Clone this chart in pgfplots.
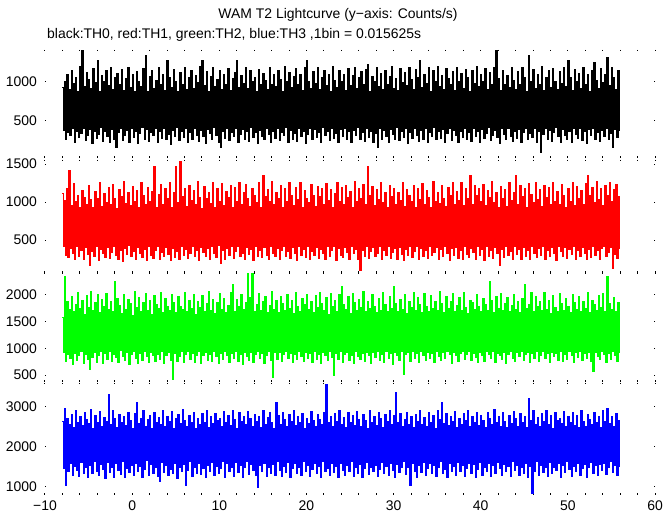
\documentclass[border=0pt]{standalone}
\usepackage{pgfplots}
\pgfplotsset{compat=1.18}
\usepackage{pgfplotstable}
\usepackage{fontspec}
\setmainfont{Liberation Sans}
\pgfplotstableread{
t a b c d
-8 930 1110 1580 2640
-7.875 380 410 930 1460
-7.75 1010 1020 2350 2950
-7.625 260 300 760 1050
-7.5 1090 1180 1870 2710
-7.375 350 270 880 1380
-7.25 900 1408 1720 2560
-7.125 310 390 820 1590
-7 1150 950 1960 2820
-6.875 400 330 700 1300
-6.75 980 1240 1690 2480
-6.625 230 250 910 1520
-6.5 1060 1000 1810 2900
-6.375 370 420 770 1410
-6.25 880 1090 2040 2620
-6.125 290 280 860 1260
-6 1200 930 1750 2750
-5.875 340 360 940 1620
-5.75 1408 1150 1900 2530
-5.625 410 240 720 1350
-5.5 940 1060 1640 2860
-5.375 250 400 890 1480
-5.25 1120 970 1980 2690
-5.125 320 310 790 1230
-5 1030 1210 1760 2580
-4.875 390 160 600 1540
-4.75 910 1030 2060 2930
-4.625 210 350 830 1330
-4.5 1170 920 1700 2470
-4.375 360 290 920 1650
-4.25 990 1140 1850 2780
-4.125 280 420 740 1400
-4 1280 1050 2010 2600
-3.875 330 230 870 1280
-3.75 870 1260 1660 2880
-3.625 420 380 950 1560
-3.5 1080 940 1920 2510
-3.375 240 320 710 1450
-3.25 1010 1110 1780 2730
-3.125 370 270 900 1210
-3 1140 990 2030 2640
-2.875 300 400 800 1610
-2.75 950 1190 1730 3300
-2.625 220 260 940 1370
-2.5 1190 960 1880 2560
-2.375 390 340 760 1500
-2.25 900 1230 1680 2920
-2.125 270 410 890 1250
-2 1060 1040 2250 2700
-1.875 160 300 830 1580
-1.75 1110 910 1940 2490
-1.625 350 250 730 1420
-1.5 960 1160 1800 2810
-1.375 410 370 960 1320
-1.25 1160 1070 1650 2600
-1.125 250 220 850 1640
-1 890 1270 2000 2760
-0.875 320 390 780 1230
-0.75 1040 980 1730 2540
-0.625 380 310 930 1470
-0.5 1180 1130 1910 2870
-0.375 230 430 700 1360
-0.25 930 950 1840 2650
-0.125 400 280 880 1550
0 1090 1200 1620 2450
0.125 290 350 940 1280
0.25 870 1000 2070 2840
0.375 360 240 810 1600
0.5 1130 1150 1760 3100
0.625 210 400 720 1390
0.75 1000 920 1950 2590
0.875 340 330 900 1510
1 940 1250 1690 2720
1.125 420 270 770 1240
1.25 1170 1080 1860 2900
1.375 270 380 950 1430
1.5 1344 960 2020 2520
1.625 390 230 840 1660
1.75 880 1190 1710 2680
1.875 240 410 730 1300
2 1070 1010 1890 2790
2.125 350 300 920 1570
2.25 1150 1140 1640 2460
2.375 310 260 860 1350
2.5 910 1472 1990 2850
2.625 400 370 750 1480
2.75 1020 930 1820 2610
2.875 220 420 890 1260
3 1190 1100 1740 2740
3.125 370 250 800 1150
3.25 960 1230 2050 2550
3.375 280 340 940 1620
3.5 1100 970 1670 2910
3.625 410 280 710 1370
3.75 890 1170 1930 2500
3.875 260 400 870 1540
4 1280 1040 1780 2770
4.125 330 310 930 1290
4.25 1050 1260 1700 2630
4.375 200 230 780 1450
4.5 930 920 2010 2880
4.625 380 390 420 1330
4.75 1160 1120 1850 2470
4.875 300 270 900 1600
5 1010 1472 1660 2700
5.125 420 350 760 1220
5.25 870 990 1960 2820
5.375 250 240 850 1490
5.5 1120 1536 1790 2580
5.625 360 410 950 1380
5.75 970 1070 1720 2930
5.875 290 300 730 1560
6 1180 1180 2040 2660
6.125 400 380 880 1050
6.25 900 940 1680 2510
6.375 230 260 940 1420
6.5 1060 1220 1900 2790
6.625 350 330 800 1630
6.75 1140 1020 1750 2600
6.875 270 420 910 1270
7 920 1150 2000 2870
7.125 410 290 740 1500
7.25 1080 960 1640 2450
7.375 320 370 870 1350
7.5 990 1270 1870 2720
7.625 240 230 950 1590
7.75 1200 1060 1770 2550
7.875 380 400 720 1310
8 1280 910 1980 2840
8.125 300 340 860 1460
8.25 950 1200 1690 2620
8.375 210 280 930 1240
8.5 1130 1040 1830 2900
8.625 390 390 780 1550
8.75 880 1130 2060 2480
8.875 340 250 890 1400
9 1070 980 1710 2760
9.125 260 410 750 1610
9.25 1190 1250 1920 2590
9.375 420 320 940 1280
9.5 940 930 1650 2830
9.625 310 270 840 1520
9.75 1030 1170 1860 2650
9.875 230 430 710 1340
10 1150 1010 2020 2700
10.125 160 192 900 1470
10.25 900 1240 1730 2500
10.375 370 360 800 1630
10.5 1100 950 1940 2880
10.625 280 240 950 1230
10.75 970 1140 1670 2610
10.875 400 390 870 1580
11 1170 1060 1800 2790
11.125 250 300 730 1390
11.25 890 1210 2050 2530
11.375 350 410 910 1500
11.5 1040 920 2200 2920
11.625 300 260 820 1270
11.75 1120 1190 1690 2680
11.875 410 350 940 1620
12 1280 1000 1910 2470
12.125 220 420 760 1360
12.25 930 1260 1780 2850
12.375 330 280 890 1540
12.5 1080 970 2000 2630
12.625 390 330 700 1250
12.75 980 1120 1720 2760
12.875 270 250 930 1480
13 1190 1230 1860 2560
13.125 360 400 850 1650
13.25 910 1050 2400 2890
13.375 240 310 780 1320
13.5 1140 940 1950 2700
13.625 420 380 920 1570
13.75 1000 1180 2400 2500
13.875 290 230 740 1410
14 1060 1090 1680 2810
14.125 350 420 890 1290
14.25 880 990 1820 2640
14.375 210 290 950 980
14.5 1160 1250 2030 2750
14.625 380 360 810 1530
14.75 960 920 1700 2490
14.875 300 270 900 1380
15 1110 1344 1880 2920
15.125 260 400 720 1600
15.25 1020 1070 1970 2570
15.375 410 300 860 1260
15.5 900 1160 1660 2730
15.625 330 250 940 1490
15.75 1180 1010 1800 2850
15.875 230 410 770 1350
16 970 1270 2060 2610
16.125 370 330 450 1560
16.25 1090 960 1730 2460
16.375 280 280 920 1300
16.5 940 1130 1900 3100
16.625 400 390 800 1640
16.75 1150 1040 1670 2780
16.875 250 240 930 1420
17 1030 1220 1960 2550
17.125 350 370 750 1270
17.25 880 930 1830 2870
17.375 310 420 890 1510
17.5 1200 1180 1700 2690
17.625 420 290 950 1370
17.75 1000 1000 2010 2500
17.875 220 350 820 1620
18 1120 1250 1740 2800
18.125 380 260 910 1240
18.25 930 1080 1890 2640
18.375 270 400 730 1460
18.5 1070 950 1650 2910
18.625 340 320 880 1580
18.75 1170 1190 2040 2530
18.875 240 230 790 1330
19 960 1030 1780 2760
19.125 400 410 940 1500
19.25 1100 1260 1690 2600
19.375 300 300 850 1280
19.5 890 920 1930 2840
19.625 360 380 760 1640
19.75 1190 1150 1810 2470
19.875 210 270 930 1400
20 1280 1050 2000 2710
20.125 330 420 820 1550
20.25 1010 990 1720 2580
20.375 410 240 900 1260
20.5 920 1230 1870 2890
20.625 260 350 740 1450
20.75 1130 1090 1660 2650
20.875 390 300 950 1600
21 980 940 1990 2520
21.125 290 400 800 1340
21.25 1180 1200 1760 2800
21.375 350 260 880 1520
21.5 900 1070 2050 2690
21.625 230 380 710 1230
21.75 1060 1170 1830 2560
21.875 420 330 930 1630
22 1140 960 1700 2870
22.125 310 250 860 1390
22.25 950 1240 1950 3550
22.375 370 410 770 1470
22.5 1090 1020 1640 2610
22.625 250 290 940 1290
22.75 880 1160 2020 2760
22.875 400 360 830 1580
23 1200 930 1790 2500
23.125 280 420 500 1360
23.25 1020 1110 1900 2830
23.375 340 230 900 1510
23.5 930 1250 1680 2640
23.625 220 390 800 1250
23.75 1150 1000 2000 2910
23.875 390 300 950 1600
24 1000 1190 2150 2570
24.125 300 270 740 1420
24.25 1100 970 1810 2730
24.375 410 400 890 1300
24.5 890 1210 1720 2480
24.625 260 340 930 1550
24.75 1170 1060 1960 2850
24.875 360 250 780 1380
25 950 1140 1650 2620
25.125 230 410 870 1640
25.25 1080 920 2030 2790
25.375 380 320 720 1270
25.5 1190 1270 1850 2540
25.625 310 380 940 1490
25.75 910 1010 1700 2880
25.875 420 240 850 1350
26 1050 1180 1920 2680
26.125 270 96 800 1570
26.25 1130 1040 1770 2500
26.375 350 370 910 1230
26.5 970 1230 2060 2810
26.625 240 290 760 1460
26.75 1160 960 1690 2650
26.875 400 420 930 1610
27 1220 1472 1880 2470
27.125 290 260 870 1320
27.25 880 1090 1740 2900
27.375 370 350 710 1500
27.5 1070 1200 2000 2600
27.625 220 400 920 1380
27.75 1000 950 1780 2770
27.875 340 280 830 1540
28 1180 1160 1660 2530
28.125 160 330 950 1260
28.25 940 1030 1940 2860
28.375 410 410 780 1430
28.5 1110 1260 1710 2700
28.625 260 240 890 1620
28.75 900 990 2040 2490
28.875 380 370 740 1340
29 1150 1120 1820 2820
29.125 300 300 940 1520
29.25 960 930 1680 2640
29.375 230 420 820 1280
29.5 1070 1220 1970 2910
29.625 390 260 900 1590
29.75 1200 1070 1750 2550
29.875 330 340 700 1410
30 920 1180 2150 2780
30.125 270 390 930 1250
30.25 1040 970 1840 3350
30.375 420 250 860 1560
30.5 890 1130 1690 2610
30.625 250 400 770 1370
30.75 1170 1020 1910 2840
30.875 360 310 950 1500
31 990 1250 1730 2520
31.125 290 230 520 1640
31.25 1120 940 2010 2690
31.375 400 380 880 1310
31.5 950 1160 1650 2870
31.625 210 300 920 1480
31.75 1190 1080 1870 2570
31.875 350 420 750 1050
32 1030 1000 1760 2760
32.125 280 270 940 1600
32.25 900 1210 2050 2480
32.375 410 350 810 1390
32.5 1160 930 1700 2810
32.625 320 410 900 1250
32.75 1060 1170 1950 2630
32.875 240 240 730 1530
33 1280 1030 1820 2900
33.125 380 390 950 1360
33.25 930 1240 1660 2550
33.375 270 290 860 1620
33.5 1100 960 2030 2740
33.625 400 370 780 1280
33.75 980 1150 1790 2500
33.875 220 260 930 1470
34 1180 1060 1680 2850
34.125 350 420 820 1580
34.25 880 920 1990 2610
34.375 300 300 910 1330
34.5 1140 1270 1740 2780
34.625 420 340 740 1540
34.75 1010 1010 1880 2460
34.875 260 400 950 1270
35 1200 1130 1700 2920
35.125 370 250 850 1500
35.25 940 980 2060 2680
35.375 280 380 770 1640
35.5 1080 1220 1830 3100
35.625 390 280 920 1350
35.75 900 1050 1670 2590
35.875 230 410 810 1450
36 1170 940 1960 2840
36.125 340 320 940 1230
36.25 1040 1190 1750 2530
36.375 410 230 880 1580
36.5 960 1090 1880 2770
36.625 250 390 720 1380
36.75 1130 1260 2020 2640
36.875 380 300 930 1510
37 890 970 1690 2890
37.125 310 400 860 1290
37.25 1190 1140 1800 2480
37.375 220 260 750 1620
37.5 1000 1020 1950 2720
37.625 360 360 900 1400
37.75 1110 1250 1710 2560
37.875 290 240 940 1530
38 920 950 2040 2830
38.125 400 420 800 1260
38.25 1160 1170 1760 2660
38.375 270 310 890 1470
38.5 1050 1040 1650 2910
38.625 350 270 950 1590
38.75 880 1344 1900 2500
38.875 240 390 770 1330
39 1140 960 1850 2750
39.125 410 340 910 1560
39.25 980 1210 1720 2600
39.375 300 250 830 1240
39.5 1200 1080 2000 2870
39.625 370 410 740 1440
39.75 940 1180 1780 2540
39.875 230 300 930 1610
40 1090 1000 1690 2790
40.125 390 380 870 1300
40.25 1010 1230 1940 2650
40.375 280 230 750 1500
40.5 1170 950 1810 2480
40.625 340 420 950 1390
40.75 900 1150 1700 2860
40.875 420 290 880 1580
41 1120 1060 2250 2700
41.125 250 370 810 1270
41.25 960 1270 1890 2560
41.375 320 260 940 1530
41.5 1190 990 1660 2930
41.625 380 400 730 1350
41.75 1408 1130 1970 2620
41.875 290 330 900 1620
42 1040 930 1750 2770
42.125 210 160 860 1460
42.25 890 1200 2030 2510
42.375 400 380 790 1280
42.5 1150 1050 1710 2850
42.625 330 270 930 1570
42.75 970 1160 1840 2640
42.875 260 410 720 1390
43 1080 940 1950 2480
43.125 410 300 890 1510
43.25 930 1250 1680 2790
43.375 300 350 940 1260
43.5 1180 1020 1800 2590
43.625 240 240 820 1640
43.75 1020 1130 2000 2880
43.875 370 420 760 1420
44 900 1344 1720 2700
44.125 280 310 920 1540
44.25 1130 970 1870 2520
44.375 390 380 850 1300
44.5 960 1210 1660 2830
44.625 220 250 950 1480
44.75 1190 1070 1930 2610
44.875 350 400 780 1350
45 1050 1180 2200 2760
45.125 410 290 880 1600
45.25 880 920 1750 2490
45.375 260 360 930 1250
45.5 1344 1240 1820 3200
45.625 340 240 740 1520
45.75 1000 1100 2040 2660
45.875 290 410 900 850
46 1160 990 1690 2900
46.125 400 330 810 1400
46.25 920 1260 1960 2570
46.375 230 270 940 1630
46.5 1090 1030 1780 2740
46.625 360 390 760 1290
46.75 970 1160 1880 2520
46.875 96 300 870 1550
47 1200 940 1700 2840
47.125 330 420 950 1370
47.25 890 1220 2050 2630
47.375 410 250 820 1490
47.5 1060 1060 1730 2910
47.625 270 370 900 1260
47.75 1140 1190 1900 2550
47.875 380 290 730 1610
48 930 960 1650 2780
48.125 240 400 930 1330
48.25 1170 1250 1990 2470
48.375 350 330 850 1500
48.5 1010 1000 1770 2870
48.625 420 230 910 1420
48.75 900 1140 1680 2650
48.875 300 410 780 1580
49 1130 970 2030 2720
49.125 220 350 940 1240
49.25 980 1230 1830 2590
49.375 390 280 760 1540
49.5 1190 1080 1710 2890
49.625 310 400 890 1360
49.75 940 930 1940 2500
49.875 260 260 800 1630
50 1280 1170 1790 2760
50.125 370 380 950 1450
50.25 1050 1010 1660 2620
50.375 230 310 870 1270
50.5 890 1260 2000 2850
50.625 400 420 740 1520
50.75 1160 950 1850 2540
50.875 330 240 920 1390
51 1000 1200 1720 2780
51.125 280 360 830 1600
51.25 1110 1040 1960 2480
51.375 410 290 950 1300
51.5 920 1150 1690 2900
51.625 250 400 770 1470
51.75 1180 960 1880 2640
51.875 360 330 900 1570
52 970 1240 1750 2510
52.125 210 250 810 1250
52.25 1090 1344 2040 2800
52.375 390 380 930 1490
52.5 880 1080 1670 2680
52.625 320 270 760 1620
52.75 1150 1190 1900 2560
52.875 400 410 560 1340
53 1248 990 1810 2870
53.125 270 300 920 1530
53.25 1020 1270 1700 2610
53.375 350 360 850 1280
53.5 910 1030 1980 2750
53.625 240 240 790 1560
53.75 1170 1170 1760 2490
53.875 380 390 940 1410
54 990 950 2020 2920
54.125 300 420 880 1600
54.25 1100 1210 1680 2640
54.375 410 280 740 1320
54.5 1312 1090 2350 2950
54.625 260 340 910 1480
54.75 950 1250 1840 2580
54.875 340 400 800 1630
55 1190 1000 1720 2770
55.125 160 128 940 1370
55.25 1060 1160 1950 2500
55.375 390 310 860 1540
55.5 900 1230 1690 2830
55.625 290 260 750 1290
55.75 1140 1070 1860 2660
55.875 370 380 920 1510
}\lc

\begin{document}
\begin{tikzpicture}
\path[use as bounding box] (0bp,0bp) rectangle (672bp,515bp);
\pgfplotsset{
  panel/.style={
    scale only axis, width=610bp,
    xmin=-10, xmax=60,
    axis line style={draw=none},
    xtick={-10,0,10,20,30,40,50,60},
    minor x tick num=4,
    tick style={black, line width=1bp},
    major tick length=1.5bp, minor tick length=1.5bp,
    tick label style={font=\fontsize{14}{16}\selectfont},
    /pgf/number format/assume math mode=true,
    /pgf/number format/1000 sep={},
    scaled y ticks=false,
    yticklabel style={inner sep=0pt, xshift=-8bp},
    xticklabel style={inner sep=0pt, yshift=-6bp},
  },
  lc/.style={const plot, line width=1.25bp},
}
\node[font=\fontsize{14}{16}\selectfont] at (338bp,500bp) {WAM T2 Lightcurve (y−axis: Counts/s)};
\node[font=\fontsize{14}{16}\selectfont, anchor=west, inner sep=0pt] at (47bp,480bp) {black:TH0, red:TH1, green:TH2, blue:TH3 ,1bin = 0.015625s};

\begin{axis}[panel, at={(45bp,465bp)}, anchor=north west, height=108bp, ymin=25, ymax=1410, ytick={500,1000}, xticklabels={}]
\addplot[lc, color=black] table[x=t, y=a] {\lc};
\end{axis}

\begin{axis}[panel, at={(45bp,355bp)}, anchor=north west, height=113bp, ymin=66, ymax=1553, ytick={500,1000,1500}, xticklabels={}]
\addplot[lc, color=red] table[x=t, y=b] {\lc};
\end{axis}

\begin{axis}[panel, at={(45bp,242bp)}, anchor=north west, height=109bp, ymin=369, ymax=2412, ytick={500,1000,1500,2000}, xticklabels={}]
\addplot[lc, color=green] table[x=t, y=c] {\lc};
\end{axis}

\begin{axis}[panel, at={(45bp,132bp)}, anchor=north west, height=112bp, ymin=800, ymax=3600, ytick={1000,2000,3000}, xticklabels={−10,0,10,20,30,40,50,60}]
\addplot[lc, color=blue] table[x=t, y=d] {\lc};
\end{axis}
\end{tikzpicture}
\end{document}
